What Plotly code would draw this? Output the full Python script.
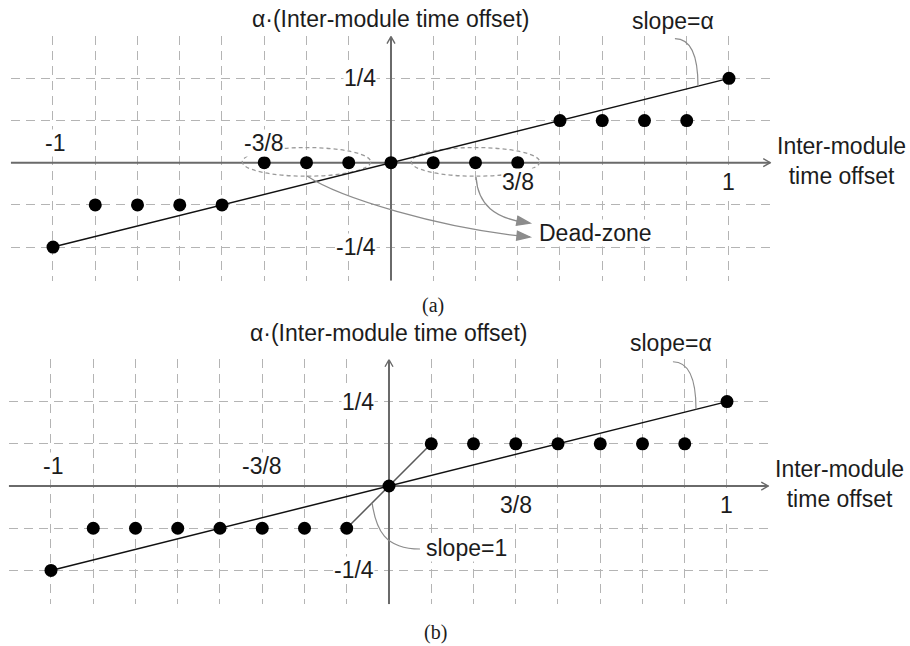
import math
import plotly.graph_objects as go

# ---------------- data ----------------
x_vals = [-1, -0.875, -0.75, -0.625, -0.5, -0.375, -0.25, -0.125, 0,
          0.125, 0.25, 0.375, 0.5, 0.625, 0.75, 0.875, 1]
y_a = [-0.25, -0.125, -0.125, -0.125, -0.125, 0, 0, 0, 0,
       0, 0, 0, 0.125, 0.125, 0.125, 0.125, 0.25]
y_b = [-0.25, -0.125, -0.125, -0.125, -0.125, -0.125, -0.125, -0.125, 0,
       0.125, 0.125, 0.125, 0.125, 0.125, 0.125, 0.125, 0.25]
alpha_line_x = [-1, 1]
alpha_line_y = [-0.25, 0.25]
slope1_x = [-0.125, 0.125]
slope1_y = [-0.125, 0.125]
grid_x = [-1, -0.875, -0.75, -0.625, -0.5, -0.375, -0.25, -0.125,
          0.125, 0.25, 0.375, 0.5, 0.625, 0.75, 0.875, 1]
grid_y = [-0.25, -0.125, 0.125, 0.25]
x_labels_above = [(-1, "-1"), (-0.375, "-3/8")]
x_labels_below = [(0.375, "3/8"), (1, "1")]
y_labels = [(0.25, "1/4"), (-0.25, "-1/4")]

X_RANGE = [-1.125, 1.125]
Y_RANGE = [-0.35, 0.375]
DOMAINS = {
    "x": ([0.01181, 0.84753], [0.56533, 0.94396]),
    "x2": ([0.009615, 0.84533], [0.06471, 0.44365]),
}

FONT = "Liberation Sans, Arial, sans-serif"
TXT = "#1c1c1c"
AXC = "#6a6a6a"
GRIDC = "#b4b4b4"
ANNC = "#8c8c8c"

fig = go.Figure()

shapes = []
annotations = []


def to_paper(x, y, xref):
    xd, yd = DOMAINS[xref]
    px = xd[0] + (x - X_RANGE[0]) / (X_RANGE[1] - X_RANGE[0]) * (xd[1] - xd[0])
    py = yd[0] + (y - Y_RANGE[0]) / (Y_RANGE[1] - Y_RANGE[0]) * (yd[1] - yd[0])
    return px, py


def arrowhead(x, y, dx, dy, L, W, xref, yref, color, filled=True):
    n = math.hypot(dx, dy)
    ux, uy = dx / n, -dy / n
    nx, ny = -uy, ux
    bx, by = -L * ux, -L * uy
    p1 = (bx + W * nx, by + W * ny)
    p2 = (bx - W * nx, by - W * ny)
    if filled:
        path = f"M0,0 L{p1[0]:.2f},{p1[1]:.2f} L{p2[0]:.2f},{p2[1]:.2f} Z"
        fill = color
    else:
        path = f"M{p1[0]:.2f},{p1[1]:.2f} L0,0 L{p2[0]:.2f},{p2[1]:.2f}"
        fill = "rgba(0,0,0,0)"
    return dict(type="path", xref=xref, yref=yref, xsizemode="pixel",
                ysizemode="pixel", xanchor=x, yanchor=y, path=path,
                fillcolor=fill, line=dict(color=color, width=1.4),
                layer="above")


def text_ann(x, y, text, xref="paper", yref="paper", xanchor="center",
             bg=None, size=23, family=FONT):
    d = dict(x=x, y=y, xref=xref, yref=yref, text=text, showarrow=False,
             xanchor=xanchor, yanchor="middle", align="center",
             font=dict(family=family, size=size, color=TXT))
    if bg:
        d["bgcolor"] = bg
        d["borderpad"] = 0
    annotations.append(d)


def panel(ys, xref, yref, title_y, extra_slope1):
    # main slope-alpha line
    fig.add_trace(go.Scatter(x=alpha_line_x, y=alpha_line_y, mode="lines",
                             line=dict(color="#111111", width=1.5),
                             xaxis=xref, yaxis=yref, hoverinfo="skip",
                             showlegend=False))
    if extra_slope1:
        fig.add_trace(go.Scatter(x=slope1_x, y=slope1_y, mode="lines",
                                 line=dict(color="#5a5a5a", width=1.5),
                                 xaxis=xref, yaxis=yref, hoverinfo="skip",
                                 showlegend=False))
    fig.add_trace(go.Scatter(x=x_vals, y=ys, mode="markers",
                             marker=dict(color="black", size=13),
                             xaxis=xref, yaxis=yref, showlegend=False))
    # axes
    shapes.append(dict(type="line", xref=xref, yref=yref, x0=X_RANGE[0], y0=0,
                       x1=1.122, y1=0, line=dict(color=AXC, width=2),
                       layer="between"))
    shapes.append(dict(type="line", xref=xref, yref=yref, x0=0, y0=Y_RANGE[0],
                       x1=0, y1=0.374, line=dict(color=AXC, width=2),
                       layer="between"))
    shapes.append(arrowhead(1.122, 0, 1, 0, 7, 4, xref, yref, AXC, False))
    shapes.append(arrowhead(0, 0.374, 0, -1, 7, 4, xref, yref, AXC, False))

    # slope=alpha callout
    shapes.append(dict(type="path", xref=xref, yref=yref,
                       path="M0.840,0.368 C0.885,0.368 0.9083,0.32 0.9083,0.2271",
                       line=dict(color=ANNC, width=1.2), layer="above"))
    px, py = to_paper(0.835, title_y[1], xref)
    text_ann(px, py, "slope=α")
    # y-axis title
    px, py = to_paper(0, title_y[0], xref)
    text_ann(px, py, "α·(Inter-module time offset)")
    # x-axis title
    px, py = to_paper(1.332, 0.005, xref)
    text_ann(px, py, "Inter-module<br>time offset")
    for v, t in x_labels_above:
        text_ann(v + (0.005 if v == -1 else 0), 0.058, t, xref, yref, bg="white")
    for v, t in x_labels_below:
        text_ann(v, -0.057, t, xref, yref, bg="white")
    for v, t in y_labels:
        text_ann(-0.041, v, t, xref, yref, xanchor="right", bg="white")


panel(y_a, "x", "y", (0.426, 0.420), False)
panel(y_b, "x2", "y2", (0.452, 0.424), True)

# ---- panel (a) dead-zone ellipses and arrows ----
for cx in (-0.25, 0.25):
    shapes.append(dict(type="circle", xref="x", yref="y", x0=cx - 0.19,
                       x1=cx + 0.19, y0=-0.04, y1=0.045,
                       line=dict(color="#9a9a9a", width=1.3, dash="4px,3px"),
                       layer="between"))
shapes.append(dict(type="path", xref="x", yref="y",
                   path="M-0.2485,-0.0395 C-0.151,-0.1047 0.145,-0.1936 0.400,-0.2190",
                   line=dict(color=ANNC, width=1.3), layer="above"))
shapes.append(dict(type="path", xref="x", yref="y",
                   path="M0.2515,-0.0424 C0.2574,-0.1257 0.3077,-0.1643 0.400,-0.1780",
                   line=dict(color=ANNC, width=1.3), layer="above"))
shapes.append(arrowhead(0.4112, -0.2203, 88, 9, 13, 4.5, "x", "y", ANNC))
shapes.append(arrowhead(0.4112, -0.1791, 33, 6, 13, 4.5, "x", "y", ANNC))
text_ann(0.6036, -0.2085, "Dead-zone", "x", "y", bg="white")

# ---- panel (b) slope=1 callout ----
shapes.append(dict(type="path", xref="x2", yref="y2",
                   path="M-0.05,-0.05 C-0.0385,-0.1303 -0.0118,-0.1866 0.0917,-0.1866",
                   line=dict(color=ANNC, width=1.2), layer="above"))
text_ann(0.1065, -0.1837, "slope=1", "x2", "y2", xanchor="left", bg="white")

# ---- captions ----
SERIF = "Liberation Serif, Times New Roman, serif"
text_ann(433 / 910, 1 - 305 / 646, "(a)", size=20, family=SERIF)
text_ann(435 / 910, 1 - 632 / 646, "(b)", size=20, family=SERIF)

axis_common = dict(range=X_RANGE, tickmode="array", tickvals=grid_x,
                   showticklabels=False, ticks="", showgrid=True,
                   gridcolor=GRIDC, gridwidth=1.3, griddash="9px,6px",
                   zeroline=False, showline=False, fixedrange=True)
yaxis_common = dict(range=Y_RANGE, tickmode="array", tickvals=grid_y,
                    showticklabels=False, ticks="", showgrid=True,
                    gridcolor=GRIDC, gridwidth=1.3, griddash="9px,6px",
                    zeroline=False, showline=False, fixedrange=True)

fig.update_layout(
    width=910, height=646,
    margin=dict(l=0, r=0, t=0, b=0),
    paper_bgcolor="white", plot_bgcolor="white",
    xaxis=dict(domain=DOMAINS["x"][0], anchor="y", **axis_common),
    yaxis=dict(domain=DOMAINS["x"][1], anchor="x", **yaxis_common),
    xaxis2=dict(domain=DOMAINS["x2"][0], anchor="y2", **axis_common),
    yaxis2=dict(domain=DOMAINS["x2"][1], anchor="x2", **yaxis_common),
    shapes=shapes,
    annotations=annotations,
    showlegend=False,
)

fig.write_html("out.html")
